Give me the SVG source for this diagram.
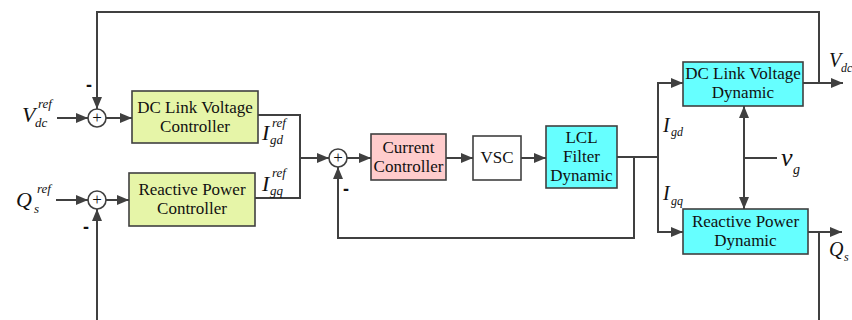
<svg xmlns="http://www.w3.org/2000/svg" width="852" height="320" viewBox="0 0 852 320">
<style>
.ln{fill:none;stroke:#404040;stroke-width:2}
.bx{stroke:#404040;stroke-width:1.6}
.t{font-family:"Liberation Serif","Times New Roman",serif;font-size:17px;fill:#111;text-anchor:middle}
.m{font-family:"Liberation Serif","Times New Roman",serif;font-style:italic;fill:#111}
.sg{font-family:"Liberation Sans",Arial,sans-serif;font-size:18px;font-weight:bold;fill:#111}
</style>
<defs>
<marker id="ah" viewBox="0 0 12 10" refX="12" refY="5" markerWidth="12" markerHeight="10" markerUnits="userSpaceOnUse" orient="auto-start-reverse">
<path d="M0,0 L12,5 L0,10 Z" fill="#404040"/>
</marker>
</defs>
<rect width="852" height="320" fill="#fff"/>
<g id="connectors">
<path class="ln" d="M819,83 V12 H97 V109" marker-end="url(#ah)"/>
<path class="ln" d="M57,118 H88" marker-end="url(#ah)"/>
<path class="ln" d="M106,118 H132" marker-end="url(#ah)"/>
<path class="ln" d="M56,200 H88" marker-end="url(#ah)"/>
<path class="ln" d="M97,320 V209" marker-end="url(#ah)"/>
<path class="ln" d="M106,200 H129" marker-end="url(#ah)"/>
<path class="ln" d="M258,115 H300 V198 H255"/>
<path class="ln" d="M300,158 H329" marker-end="url(#ah)"/>
<path class="ln" d="M347,158 H371" marker-end="url(#ah)"/>
<path class="ln" d="M446,158 H473" marker-end="url(#ah)"/>
<path class="ln" d="M521,158 H546" marker-end="url(#ah)"/>
<path class="ln" d="M617,157 H658"/>
<path class="ln" d="M634,157 V238 H338 V167" marker-end="url(#ah)"/>
<path class="ln" d="M658,157 V83 H683" marker-end="url(#ah)"/>
<path class="ln" d="M658,157 V232 H683" marker-end="url(#ah)"/>
<path class="ln" d="M803,83 H843" marker-end="url(#ah)"/>
<path class="ln" d="M808,232 H842" marker-end="url(#ah)"/>
<path class="ln" d="M819,232 V320"/>
<path class="ln" d="M744,106 V209" marker-start="url(#ah)" marker-end="url(#ah)"/>
<path class="ln" d="M744,158 H777"/>
</g>
<g id="sum1"><circle cx="97" cy="118" r="9" fill="#fff" stroke="#404040" stroke-width="1.6"/><text x="97" y="123" class="t" font-size="14">+</text><text x="86" y="91" class="sg">-</text></g>
<g id="sum2"><circle cx="97" cy="200" r="9" fill="#fff" stroke="#404040" stroke-width="1.6"/><text x="97" y="205" class="t" font-size="14">+</text><text x="83" y="233" class="sg">-</text></g>
<g id="sum3"><circle cx="338" cy="158" r="9" fill="#fff" stroke="#404040" stroke-width="1.6"/><text x="338" y="163" class="t" font-size="14">+</text><text x="343" y="195" class="sg">-</text></g>
<g id="vdcref"><text x="22" y="122" class="m" font-size="22">V</text><text x="38" y="108" class="m" font-size="13">ref</text><text x="35" y="127" class="m" font-size="13">dc</text></g>
<g id="qsref"><text x="16" y="207" class="m" font-size="22">Q</text><text x="37" y="193" class="m" font-size="13">ref</text><text x="34" y="213" class="m" font-size="13">s</text></g>
<g id="dclvc"><rect class="bx" x="132" y="91" width="126" height="52" fill="#e6f5a8"/><text x="195" y="113" class="t">DC Link Voltage</text><text x="195" y="132" class="t">Controller</text></g>
<g id="rpc"><rect class="bx" x="129" y="173" width="126" height="53" fill="#e6f5a8"/><text x="192" y="195" class="t">Reactive Power</text><text x="192" y="214" class="t">Controller</text></g>
<g id="igdref"><text x="262" y="140" class="m" font-size="22">I</text><text x="272" y="127" class="m" font-size="13">ref</text><text x="270" y="144" class="m" font-size="13">gd</text></g>
<g id="igqref"><text x="262" y="191" class="m" font-size="22">I</text><text x="272" y="177" class="m" font-size="13">ref</text><text x="270" y="195" class="m" font-size="13">gq</text></g>
<g id="cc"><rect class="bx" x="371" y="134" width="75" height="46" fill="#ffcccc"/><text x="408.5" y="153" class="t">Current</text><text x="408.5" y="172" class="t">Controller</text></g>
<g id="vsc"><rect class="bx" x="473" y="136" width="48" height="44" fill="#fff"/><text x="497" y="163" class="t">VSC</text></g>
<g id="lcl"><rect class="bx" x="546" y="126" width="71" height="62" fill="#66ffff"/><text x="581.5" y="143" class="t">LCL</text><text x="581.5" y="162" class="t">Filter</text><text x="581.5" y="181" class="t">Dynamic</text></g>
<g id="dclvd"><rect class="bx" x="683" y="62" width="120" height="44" fill="#66ffff"/><text x="743" y="79" class="t">DC Link Voltage</text><text x="743" y="98" class="t">Dynamic</text></g>
<g id="rpd"><rect class="bx" x="683" y="209" width="125" height="45" fill="#66ffff"/><text x="745.5" y="227" class="t">Reactive Power</text><text x="745.5" y="246" class="t">Dynamic</text></g>
<g id="igd"><text x="663" y="132" class="m" font-size="20">I</text><text x="671" y="136" class="m" font-size="12">gd</text></g>
<g id="igq"><text x="663" y="200" class="m" font-size="20">I</text><text x="671" y="205" class="m" font-size="12">gq</text></g>
<g id="vdc"><text x="829" y="67" class="m" font-size="20">V</text><text x="841" y="72" class="m" font-size="12">dc</text></g>
<g id="qs"><text x="829" y="256" class="m" font-size="20">Q</text><text x="844" y="261" class="m" font-size="12">s</text></g>
<g id="vg"><text x="781" y="166" class="m" font-size="26">v</text><text x="793" y="174" class="m" font-size="14">g</text></g>
</svg>
